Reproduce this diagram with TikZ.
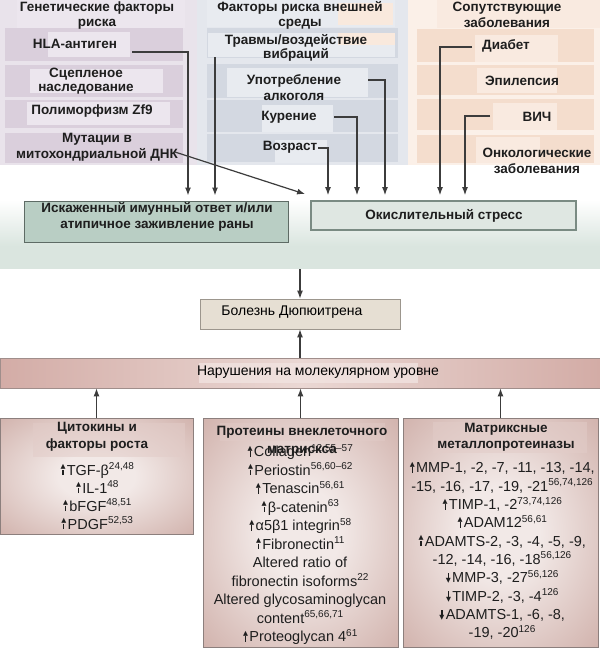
\documentclass[tikz,border=0pt]{standalone}
\usepackage{fontspec}
\setmainfont{Liberation Sans}
\newfontfamily\djv{DejaVu Sans}
\usetikzlibrary{arrows.meta}
\definecolor{txt}{HTML}{1E1E1E}
\definecolor{ln}{HTML}{3C3C3C}
\definecolor{lbg}{HTML}{E9E3EB}
\definecolor{lband}{HTML}{DACFDC}
\definecolor{llight}{HTML}{ECE6EE}
\definecolor{mbg}{HTML}{E4E7ED}
\definecolor{mband}{HTML}{D3D8E1}
\definecolor{mlight}{HTML}{E8EBF0}
\definecolor{peach}{HTML}{F9E9DD}
\definecolor{rbg}{HTML}{FBF0E8}
\definecolor{rband}{HTML}{F4DDCD}
\definecolor{rlight}{HTML}{F9EAE0}
\definecolor{gbg}{HTML}{DAE5DF}
\definecolor{immf}{HTML}{B9CEC4}
\definecolor{immd}{HTML}{5E6B65}
\definecolor{oxf}{HTML}{DFE7E2}
\definecolor{oxd}{HTML}{7A8B83}
\definecolor{disf}{HTML}{E6DFD3}
\definecolor{disd}{HTML}{9C968D}
\definecolor{bars}{HTML}{D3ACA6}
\definecolor{barc}{HTML}{EAD7D3}
\definecolor{barl}{HTML}{F1E3E0}
\definecolor{bard}{HTML}{A08E8B}
\definecolor{boxi}{HTML}{F2E9E7}
\definecolor{boxo}{HTML}{C8A39C}
\definecolor{boxd}{HTML}{8C7F7D}
\definecolor{boxh}{HTML}{E2CCC8}
\pgfdeclareradialshading{boxrad}{\pgfpoint{0bp}{0bp}}{color(0bp)=(boxi); color(10bp)=(boxi); color(43bp)=(boxo); color(50bp)=(boxo)}
\newcommand\myup{\leavevmode\hbox to 6pt{\hss\vbox{\offinterlineskip\halign{\hfil##\hfil\cr{\djv\fontsize{6.5}{6.5}\selectfont ▲}\cr\rule{1.1pt}{5.5pt}\cr}}\hss}\hspace{0.8pt}}
\newcommand\mydn{\leavevmode\hbox to 6pt{\hss\vbox{\offinterlineskip\halign{\hfil##\hfil\cr\rule{1.1pt}{5.5pt}\cr{\djv\fontsize{6.5}{6.5}\selectfont ▼}\cr}}\hss}\hspace{0.8pt}}
\newcommand\myref[1]{\raisebox{5.5pt}{\fontsize{10}{10}\selectfont #1}}
\begin{document}
\begin{tikzpicture}[x=1pt,y=-1pt,
  hd/.style={font=\bfseries\fontsize{13.5}{15}\selectfont, align=center, text=txt, inner sep=0pt},
  it/.style={font=\fontsize{14.5}{18.3}\selectfont, align=center, text=txt, inner sep=0pt},
  arr/.style={draw=ln, line width=1.2pt, -{Latex[length=8pt,width=6pt]}},
  sh/.style={shorten >=5pt}]
\useasboundingbox (0,0) rectangle (600,649);
\fill[white] (0,0) rectangle (600,649);

% ---------- left column
\fill[lbg] (0,0) rectangle (197,165);
\fill[llight] (17,0) rectangle (185,28);
\foreach \a/\b in {28/61, 65/97, 100/128, 133/163} \fill[lband] (5,\a) rectangle (183,\b);
\fill[llight] (48,32) rectangle (130,57);
\fill[llight] (30,69) rectangle (163,93);
\fill[llight] (27,102) rectangle (170,125);
% ---------- middle column
\fill[mbg] (197,0) rectangle (408,165);
\fill[mlight] (207,0) rectangle (395,27);
\foreach \a/\b in {28/58, 64/98, 100/132, 134/162} \fill[mband] (207,\a) rectangle (398,\b);
\fill[mlight] (208,33) rectangle (395,57);
\fill[peach] (338,3) rectangle (393,25);
\fill[peach] (338,33) rectangle (395,45);
\fill[mlight] (227,68) rectangle (368,97);
\fill[mlight] (262,105) rectangle (333,132);
\fill[mlight] (275,140) rectangle (327,163);
% ---------- right column
\fill[rbg] (408,0) rectangle (600,165);
\fill[rlight] (437,0) rectangle (600,28);
\foreach \a/\b in {29/62, 65/95, 99/130, 135/163} \fill[rband] (417,\a) rectangle (594,\b);
\fill[rlight] (475,35) rectangle (558,62);
\fill[rlight] (477,68) rectangle (557,93);
\fill[rlight] (493,103) rectangle (557,130);
\fill[rlight] (476,137) rectangle (540,163);

% ---------- texts of the columns
\node[hd] (hg) at (97,16) {Генетические факторы\\риска};
\node[hd] (hla) at (75,44) {HLA-антиген};
\node[hd, font=\bfseries\fontsize{13.5}{14}\selectfont] (scn) at (86,81) {Сцепленое\\наследование};
\node[hd] (pol) at (92,111) {Полиморфизм Zf9};
\node[hd, font=\bfseries\fontsize{13.5}{16}\selectfont] (mut) at (97,147) {Мутации в\\митохондриальной ДНК};

\node[hd] (he) at (300,15) {Факторы риска внешней\\среды};
\node[hd, font=\bfseries\fontsize{13.5}{14}\selectfont] (trv) at (296,48) {Травмы/воздействие\\вибраций};
\node[hd, font=\bfseries\fontsize{13.5}{16}\selectfont] (upo) at (294,88) {Употребление\\алкоголя};
\node[hd] (kur) at (289,117) {Курение};
\node[hd] (voz) at (290,147) {Возраст};

\node[hd, font=\bfseries\fontsize{13.5}{16}\selectfont] (hc) at (507,15) {Сопутствующие\\заболевания};
\node[hd] (dia) at (506,46) {Диабет};
\node[hd] (epi) at (522,81) {Эпилепсия};
\node[hd] (vich) at (537,117) {ВИЧ};
\node[hd, font=\bfseries\fontsize{13.5}{16}\selectfont] (onk) at (537,161) {Онкологические\\заболевания};

% ---------- backdrop
\shade[top color=white, bottom color=gbg] (0,200) rectangle (600,246);
\fill[gbg] (0,245.5) rectangle (600,269);
\coordinate (bgS) at (300,269);

% ---------- middle boxes
\node[draw=immd, fill=immf, line width=1pt, minimum width=264pt, minimum height=41pt, inner sep=0pt] (imm) at (156,221.5) {};
\node[hd, font=\bfseries\fontsize{13.5}{16}\selectfont] (imml) at (157,217) {Искаженный имунный ответ и/или\\атипичное заживление раны};
\node[draw=oxd, fill=oxf, line width=1.8pt, minimum width=265pt, minimum height=29pt, inner sep=0pt] (ox) at (443.5,215.5) {};
\node[hd] (oxl) at (444,216) {Окислительный стресс};

% ---------- connectors at the top
\coordinate (hlaR) at (132,52);  \coordinate (hlaX) at (188,0);
\coordinate (trS) at (215,57);
\coordinate (mutR) at (175,152);
\coordinate (vozR) at (318,148); \coordinate (vozX) at (328,0);
\coordinate (kurR) at (334,117); \coordinate (kurX) at (357,0);
\coordinate (upoR) at (368,80);  \coordinate (upoX) at (385,0);
\coordinate (diaL) at (472,47);  \coordinate (diaX) at (440,0);
\coordinate (vicL) at (490,116); \coordinate (vicX) at (465,0);
\draw[arr, sh] (hlaR) -| (imm.north -| hlaX);
\draw[arr, sh] (trS) -- (imm.north -| trS);
\draw[arr] (mutR) -- ([shift={(-5pt,6pt)}]ox.north west);
\draw[arr, sh] (vozR) -| (ox.north -| vozX);
\draw[arr, sh] (kurR) -| (ox.north -| kurX);
\draw[arr, sh] (upoR) -| (ox.north -| upoX);
\draw[arr, sh] (diaL) -| (ox.north -| diaX);
\draw[arr, sh] (vicL) -| (ox.north -| vicX);

% ---------- disease
\node[draw=disd, fill=disf, line width=0.8pt, minimum width=200pt, minimum height=30pt, inner sep=0pt] (dis) at (300,314) {};
\node[font=\fontsize{14}{16}\selectfont, text=black, inner sep=0pt] (disl) at (292,312) {Болезнь Дюпюитрена};
\draw[arr] (bgS) -- (dis.north);

% ---------- molecular bar
\node[draw=bard, left color=bars, right color=bars, middle color=barc, line width=0.8pt, minimum width=600pt, minimum height=30pt, inner sep=0pt] (bar) at (300,373) {};
\fill[barl, opacity=0.8] (199,363) rectangle (418,383);
\node[font=\fontsize{14}{16}\selectfont, text=black, inner sep=0pt] (barlab) at (318,372) {Нарушения на молекулярном уровне};
\draw[arr] (bar.north) -- (dis.south);

% ---------- bottom boxes
\node[draw=boxd, shading=boxrad, shade, line width=0.8pt, minimum width=193pt, minimum height=116pt, inner sep=0pt] (cyt) at (96.5,476) {};
\node[draw=boxd, shading=boxrad, shade, line width=0.8pt, minimum width=195pt, minimum height=229pt, inner sep=0pt] (ecm) at (300.5,532.5) {};
\node[draw=boxd, shading=boxrad, shade, line width=0.8pt, minimum width=195pt, minimum height=229pt, inner sep=0pt] (mmp) at (500.5,532.5) {};
\fill[boxh, opacity=0.55] (33,423) rectangle (185,457);
\fill[boxh, opacity=0.45] (220,423) rectangle (385,441);
\fill[boxh, opacity=0.55] (433,422) rectangle (587,453);

\draw[arr] (cyt.north) -- (cyt.north |- bar.south);
\draw[arr] (ecm.north) -- (ecm.north |- bar.south);
\draw[arr] (mmp.north) -- (mmp.north |- bar.south);

\node[hd, font=\bfseries\fontsize{13.5}{17}\selectfont] (cyth) at (97,436.5) {Цитокины и\\факторы роста};
\node[it, font=\fontsize{14.5}{18}\selectfont] (cyti) at (97,496) {\myup TGF-β\myref{24,48}\\
\myup IL-1\myref{48}\\
\myup bFGF\myref{48,51}\\
\myup PDGF\myref{52,53}};

\node[hd, font=\bfseries\fontsize{13.5}{18}\selectfont] (ecmh) at (302,441) {Протеины внеклеточного\\матрискса};
\node[it, font=\fontsize{14.5}{18.5}\selectfont] (ecmi) at (300,544.5) {\myup Collagen\myref{12,55–57}\\
\myup Periostin\myref{56,60–62}\\
\myup Tenascin\myref{56,61}\\
\myup β-catenin\myref{63}\\
\myup α5β1 integrin\myref{58}\\
\myup Fibronectin\myref{11}\\
Altered ratio of\\
fibronectin isoforms\myref{22}\\
Altered glycosaminoglycan\\
content\myref{65,66,71}\\
\myup Proteoglycan 4\myref{61}};

\node[hd, font=\bfseries\fontsize{13.5}{16}\selectfont] (mmph) at (506,437) {Матриксные\\металлопротеиназы};
\node[it] (mmpi) at (502,551) {\myup MMP-1, -2, -7, -11, -13, -14,\\
-15, -16, -17, -19, -21\myref{56,74,126}\\
\myup TIMP-1, -2\myref{73,74,126}\\
\myup ADAM12\myref{56,61}\\
\myup ADAMTS-2, -3, -4, -5, -9,\\
-12, -14, -16, -18\myref{56,126}\\
\mydn MMP-3, -27\myref{56,126}\\
\mydn TIMP-2, -3, -4\myref{126}\\
\mydn ADAMTS-1, -6, -8,\\
-19, -20\myref{126}};
\end{tikzpicture}
\end{document}
